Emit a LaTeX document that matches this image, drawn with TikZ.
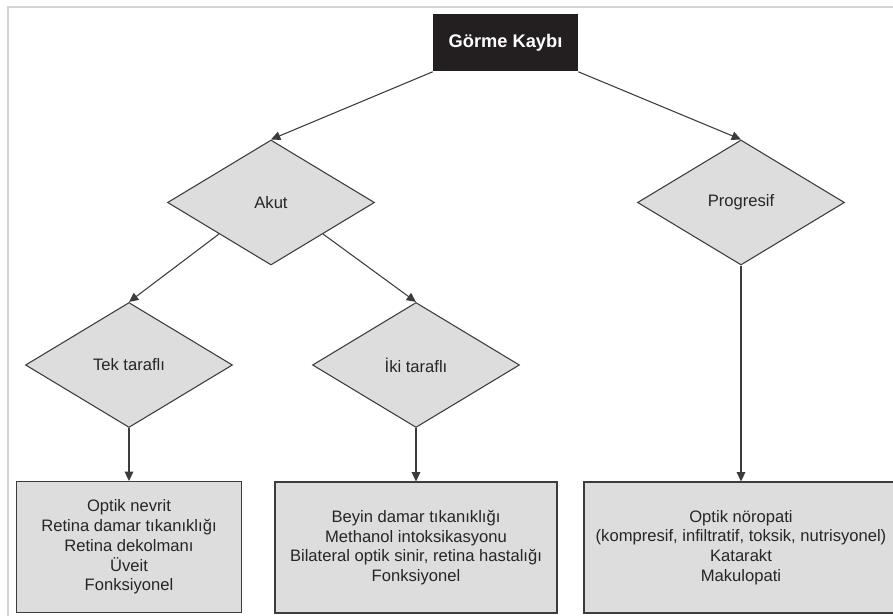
\documentclass[tikz,border=0pt]{standalone}
\usepackage{fontspec}
\setmainfont{Liberation Sans}
\usetikzlibrary{shapes.geometric,arrows.meta}

\definecolor{boxfill}{HTML}{DCDDDC}
\definecolor{edgegray}{HTML}{3C3C3C}
\definecolor{titlefill}{HTML}{231F20}
\definecolor{framegray}{HTML}{D4D4D4}
\definecolor{inkgray}{HTML}{262626}

\newcommand\bodysize{\fontsize{12.45pt}{14.8pt}\selectfont}
\newcommand\titlesize{\fontsize{13.7pt}{16pt}\selectfont\bfseries}

\begin{document}
\begin{tikzpicture}[
  x=0.75pt, y=-0.75pt,
  decision/.style={diamond, draw=edgegray, fill=boxfill, line width=0.8pt,
    inner sep=0pt, minimum width=207*0.75pt, minimum height=125*0.75pt,
    text=inkgray, font=\bodysize},
  outcome/.style={rectangle, draw=edgegray, fill=boxfill, line width=0.8pt,
    inner sep=0pt, minimum height=131*0.75pt, align=center,
    text=inkgray, font=\bodysize},
  head/.style={rectangle, fill=titlefill, text=white, font=\titlesize,
    inner sep=0pt, minimum width=145*0.75pt, minimum height=57*0.75pt},
  link/.style={draw=edgegray, line width=0.8pt,
    -{Triangle[length=7pt,width=6.5pt]}}
]
\useasboundingbox (0,0) rectangle (893,616);
\clip (0,0) rectangle (893,616);

% thin page frame
\draw[framegray, line width=0.8pt] (8,700) -- (8,7) -- (950,7);

% nodes
\node[head] (root) at (505.5,43) {Görme Kaybı};
\node[decision] (akut) at (271,202.5) {Akut};
\node[decision] (prog) at (741,202.5) {Progresif};
\node[decision] (tek) at (129,365) {Tek taraflı};
\node[decision] (iki) at (416,365) {İki taraflı};

\node[outcome, minimum width=225*0.75pt] (tekbox) at (129,547)
  {Optik nevrit\\Retina damar tıkanıklığı\\Retina dekolmanı\\Üveit\\Fonksiyonel};
\node[outcome, minimum width=282*0.75pt] (ikibox) at (416,547.5)
  {Beyin damar tıkanıklığı\\Methanol intoksikasyonu\\Bilateral optik sinir, retina hastalığı\\Fonksiyonel};
\node[outcome, minimum width=314*0.75pt] (progbox) at (741,547.5)
  {Optik nöropati\\(kompresif, infiltratif, toksik, nutrisyonel)\\Katarakt\\Makulopati};

% connectors
\draw[link] (root.south west) -- (akut.north);
\draw[link] (root.south east) -- (prog.north);
\draw[link] (akut.south west) -- (tek.north);
\draw[link] (akut.south east) -- (iki.north);
\draw[link] (tek.south) -- (tekbox.north);
\draw[link] (iki.south) -- (ikibox.north);
\draw[link] (prog.south) -- (progbox.north);
\end{tikzpicture}
\end{document}
